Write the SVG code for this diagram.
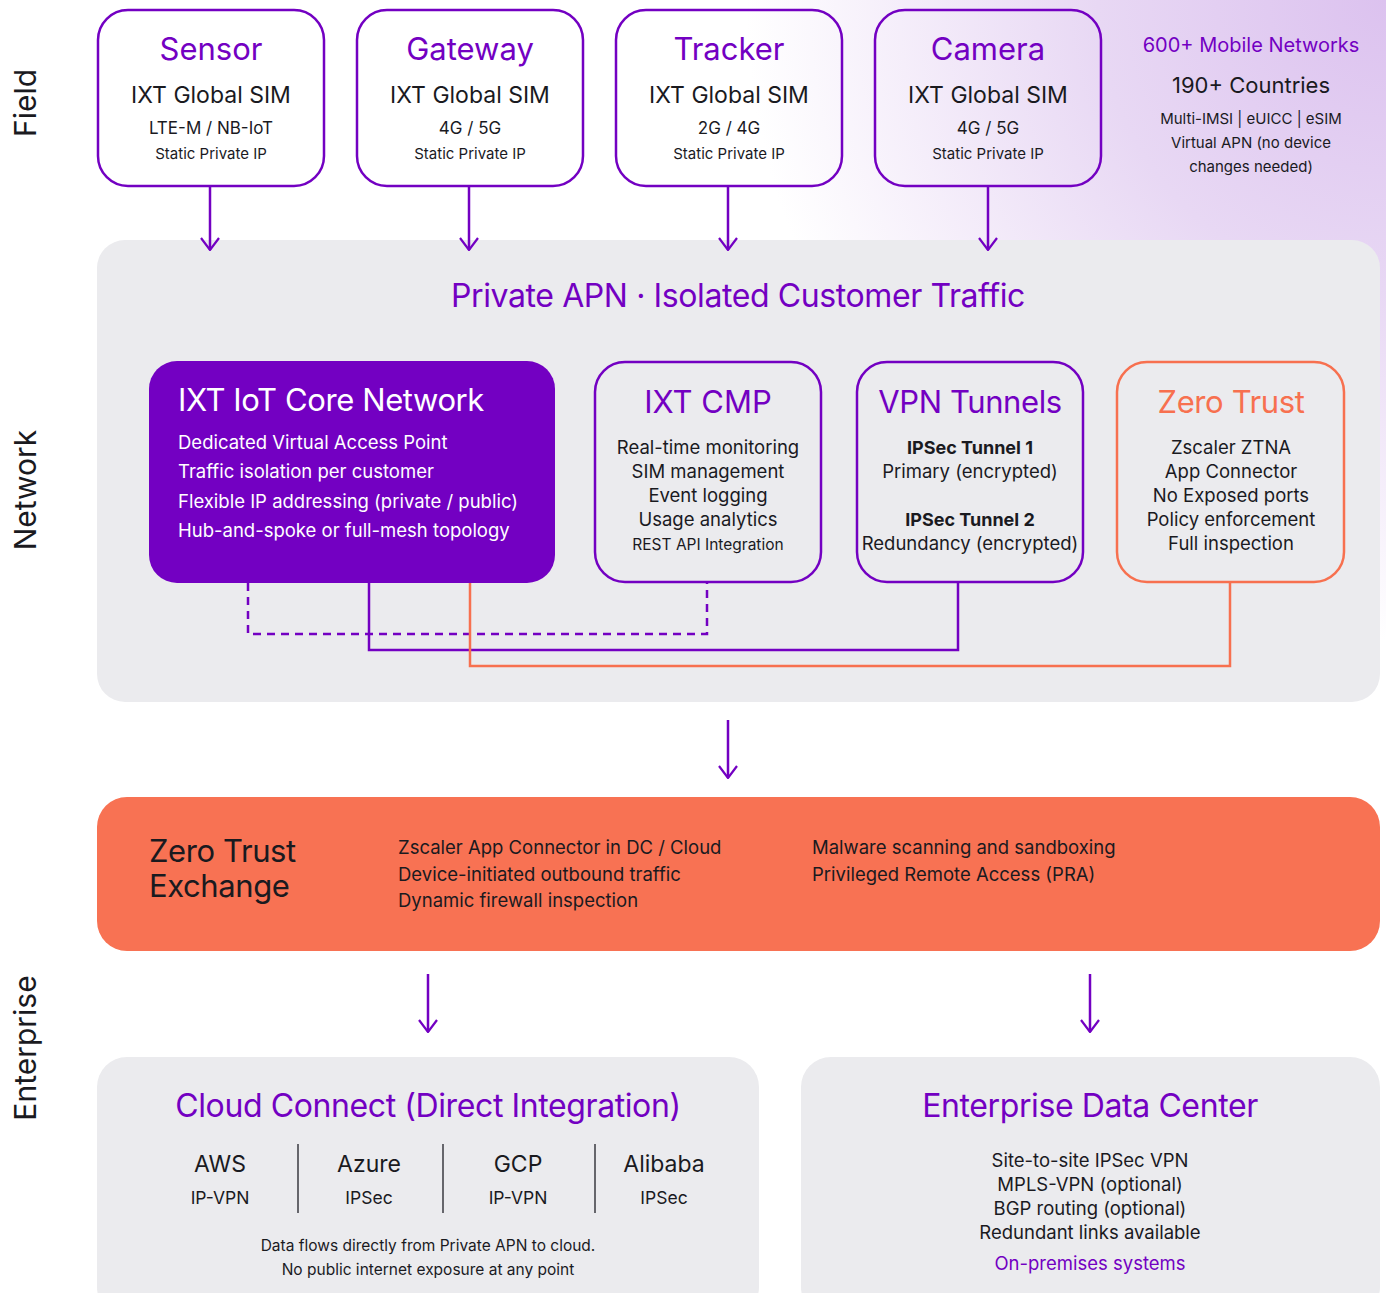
<svg xmlns="http://www.w3.org/2000/svg" width="1386" height="1293" viewBox="0 0 1386 1293">
<style>
text{font-family:Inter,"Noto Sans","Liberation Sans",sans-serif;fill:#1a1a1f}
.p{fill:#7300c2}
.w{fill:#ffffff}
.o{fill:#f7704f}
.c{text-anchor:middle}
.t{letter-spacing:-0.4px}
.fbox{fill:none;stroke:#7300c2;stroke-width:2.5}
.panel{fill:#ebebee}
.conn{fill:none;stroke:#7300c2;stroke-width:2.5}
.side{font-size:30px}
</style>
<defs>
<radialGradient id="glow" gradientUnits="userSpaceOnUse" cx="1386" cy="0" r="640">
<stop offset="0" stop-color="#dcc2ef"/>
<stop offset="0.45" stop-color="#e8d8f4"/>
<stop offset="1" stop-color="#ffffff"/>
</radialGradient>
<marker id="arr" viewBox="0 0 14 20" refX="13" refY="10" markerWidth="14" markerHeight="20" markerUnits="userSpaceOnUse" orient="auto">
<path d="M1,1 L13,10 L1,19" fill="none" stroke="#7300c2" stroke-width="2.2"/>
</marker>
</defs>
<rect width="1386" height="1293" fill="#ffffff"/>
<rect width="1386" height="1293" fill="url(#glow)"/>

<g id="lane-labels">
<text class="side c" transform="translate(36,103) rotate(-90)">Field</text>
<text class="side c" transform="translate(36,490) rotate(-90)">Network</text>
<text class="side c" transform="translate(36,1048) rotate(-90)">Enterprise</text>
</g>

<g id="node-sensor">
<rect class="fbox" x="98" y="10" width="226" height="176" rx="30"/>
<text class="p c" x="211" y="60" font-size="31">Sensor</text>
<text class="c" x="211" y="103" font-size="23">IXT Global SIM</text>
<text class="c" x="211" y="134" font-size="17">LTE-M / NB-IoT</text>
<text class="c" x="211" y="159" font-size="15">Static Private IP</text>
</g>
<g id="node-gateway">
<rect class="fbox" x="357" y="10" width="226" height="176" rx="30"/>
<text class="p c" x="470" y="60" font-size="31">Gateway</text>
<text class="c" x="470" y="103" font-size="23">IXT Global SIM</text>
<text class="c" x="470" y="134" font-size="17">4G / 5G</text>
<text class="c" x="470" y="159" font-size="15">Static Private IP</text>
</g>
<g id="node-tracker">
<rect class="fbox" x="616" y="10" width="226" height="176" rx="30"/>
<text class="p c" x="729" y="60" font-size="31">Tracker</text>
<text class="c" x="729" y="103" font-size="23">IXT Global SIM</text>
<text class="c" x="729" y="134" font-size="17">2G / 4G</text>
<text class="c" x="729" y="159" font-size="15">Static Private IP</text>
</g>
<g id="node-camera">
<rect class="fbox" x="875" y="10" width="226" height="176" rx="30"/>
<text class="p c" x="988" y="60" font-size="31">Camera</text>
<text class="c" x="988" y="103" font-size="23">IXT Global SIM</text>
<text class="c" x="988" y="134" font-size="17">4G / 5G</text>
<text class="c" x="988" y="159" font-size="15">Static Private IP</text>
</g>
<g id="coverage">
<text class="p c" x="1251" y="52" font-size="20">600+ Mobile Networks</text>
<text class="c" x="1251" y="93" font-size="22">190+ Countries</text>
<text class="c" x="1251" y="124" font-size="15">Multi-IMSI | eUICC | eSIM</text>
<text class="c" x="1251" y="148" font-size="15">Virtual APN (no device</text>
<text class="c" x="1251" y="172" font-size="15">changes needed)</text>
</g>

<g id="network-panel">
<rect class="panel" x="97" y="240" width="1283" height="462" rx="28"/>
<text class="p c t" x="738" y="307" font-size="32">Private APN · Isolated Customer Traffic</text>
</g>

<g id="connectors">
<line class="conn" x1="210" y1="186" x2="210" y2="250" marker-end="url(#arr)"/>
<line class="conn" x1="469" y1="186" x2="469" y2="250" marker-end="url(#arr)"/>
<line class="conn" x1="728" y1="186" x2="728" y2="250" marker-end="url(#arr)"/>
<line class="conn" x1="988" y1="186" x2="988" y2="250" marker-end="url(#arr)"/>
<path class="conn" d="M248,583 V634 H707 V582" stroke-dasharray="8,6"/>
<path class="conn" d="M369,583 V650 H958 V582"/>
<path class="conn" d="M470,583 V666 H1230 V582" style="stroke:#f7704f"/>
<line class="conn" x1="728" y1="720" x2="728" y2="778" marker-end="url(#arr)"/>
<line class="conn" x1="428" y1="974" x2="428" y2="1032" marker-end="url(#arr)"/>
<line class="conn" x1="1090" y1="974" x2="1090" y2="1032" marker-end="url(#arr)"/>
</g>

<g id="node-iot-core">
<rect x="149" y="361" width="406" height="222" rx="28" fill="#7300c2"/>
<text class="w t" x="178" y="411" font-size="31">IXT IoT Core Network</text>
<text class="w" x="178" y="449" font-size="18.5">Dedicated Virtual Access Point</text>
<text class="w" x="178" y="478" font-size="18.5">Traffic isolation per customer</text>
<text class="w" x="178" y="508" font-size="18.5">Flexible IP addressing (private / public)</text>
<text class="w" x="178" y="537" font-size="18.5">Hub-and-spoke or full-mesh topology</text>
</g>
<g id="node-cmp">
<rect class="fbox" x="595" y="362" width="226" height="220" rx="30"/>
<text class="p c" x="708" y="413" font-size="31">IXT CMP</text>
<text class="c" x="708" y="454" font-size="18.5">Real-time monitoring</text>
<text class="c" x="708" y="478" font-size="18.5">SIM management</text>
<text class="c" x="708" y="502" font-size="18.5">Event logging</text>
<text class="c" x="708" y="526" font-size="18.5">Usage analytics</text>
<text class="c" x="708" y="550" font-size="15.5">REST API Integration</text>
</g>
<g id="node-vpn">
<rect class="fbox" x="857" y="362" width="226" height="220" rx="30"/>
<text class="p c t" x="970" y="413" font-size="31">VPN Tunnels</text>
<text class="c" x="970" y="454" font-size="18" font-weight="bold">IPSec Tunnel 1</text>
<text class="c" x="970" y="478" font-size="18.5">Primary (encrypted)</text>
<text class="c" x="970" y="526" font-size="18" font-weight="bold">IPSec Tunnel 2</text>
<text class="c" x="970" y="550" font-size="18.5">Redundancy (encrypted)</text>
</g>
<g id="node-zero-trust">
<rect x="1117" y="362" width="227" height="220" rx="30" fill="none" stroke="#f7704f" stroke-width="2.5"/>
<text class="o c t" x="1231" y="413" font-size="31">Zero Trust</text>
<text class="c" x="1231" y="454" font-size="18.5">Zscaler ZTNA</text>
<text class="c" x="1231" y="478" font-size="18.5">App Connector</text>
<text class="c" x="1231" y="502" font-size="18.5">No Exposed ports</text>
<text class="c" x="1231" y="526" font-size="18.5">Policy enforcement</text>
<text class="c" x="1231" y="550" font-size="18.5">Full inspection</text>
</g>

<g id="node-zte">
<rect x="97" y="797" width="1283" height="154" rx="30" fill="#f87253"/>
<text class="t" x="149" y="862" font-size="31">Zero Trust</text>
<text class="t" x="149" y="897" font-size="31">Exchange</text>
<text x="398" y="854" font-size="18.5">Zscaler App Connector in DC / Cloud</text>
<text x="398" y="881" font-size="18.5">Device-initiated outbound traffic</text>
<text x="398" y="907" font-size="18.5">Dynamic firewall inspection</text>
<text x="812" y="854" font-size="18.5">Malware scanning and sandboxing</text>
<text x="812" y="881" font-size="18.5">Privileged Remote Access (PRA)</text>
</g>

<g id="node-cloud-connect">
<rect class="panel" x="97" y="1057" width="662" height="260" rx="30"/>
<text class="p c t" x="428" y="1117" font-size="32">Cloud Connect (Direct Integration)</text>
<text class="c" x="220" y="1172" font-size="23">AWS</text>
<text class="c" x="220" y="1204" font-size="17.5">IP-VPN</text>
<text class="c" x="369" y="1172" font-size="23">Azure</text>
<text class="c" x="369" y="1204" font-size="17.5">IPSec</text>
<text class="c" x="518" y="1172" font-size="23">GCP</text>
<text class="c" x="518" y="1204" font-size="17.5">IP-VPN</text>
<text class="c" x="664" y="1172" font-size="23">Alibaba</text>
<text class="c" x="664" y="1204" font-size="17.5">IPSec</text>
<g stroke="#3a3a40" stroke-width="1.5">
<line x1="298" y1="1144" x2="298" y2="1213"/>
<line x1="443" y1="1144" x2="443" y2="1213"/>
<line x1="595" y1="1144" x2="595" y2="1213"/>
</g>
<text class="c" x="428" y="1251" font-size="15.5">Data flows directly from Private APN to cloud.</text>
<text class="c" x="428" y="1275" font-size="15.5">No public internet exposure at any point</text>
</g>

<g id="node-datacenter">
<rect class="panel" x="801" y="1057" width="579" height="260" rx="30"/>
<text class="p c t" x="1090" y="1117" font-size="32">Enterprise Data Center</text>
<text class="c" x="1090" y="1167" font-size="18.5">Site-to-site IPSec VPN</text>
<text class="c" x="1090" y="1191" font-size="18.5">MPLS-VPN (optional)</text>
<text class="c" x="1090" y="1215" font-size="18.5">BGP routing (optional)</text>
<text class="c" x="1090" y="1239" font-size="18.5">Redundant links available</text>
<text class="p c" x="1090" y="1270" font-size="18.5">On-premises systems</text>
</g>
</svg>
